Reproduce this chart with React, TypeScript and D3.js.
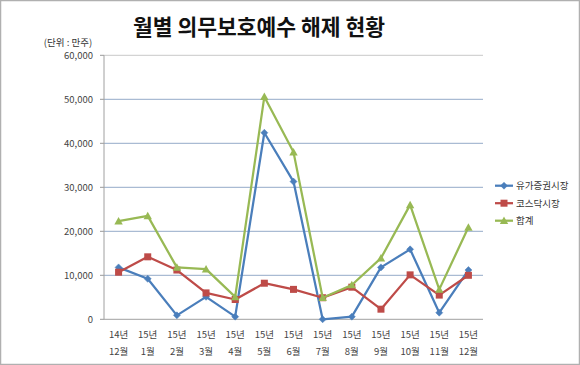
import React from "react";
import * as d3 from "d3";

const categoriesTop = ["14년", "15년", "15년", "15년", "15년", "15년", "15년", "15년", "15년", "15년", "15년", "15년", "15년"];
const categoriesBottom = ["12월", "1월", "2월", "3월", "4월", "5월", "6월", "7월", "8월", "9월", "10월", "11월", "12월"];
const categoryKeys = categoriesTop.map((t, i) => `${t} ${categoriesBottom[i]}`);

const kospi = [11800, 9200, 900, 5100, 600, 42400, 31300, 0, 600, 11800, 15900, 1500, 11200];
const kosdaq = [10700, 14200, 11200, 6000, 4500, 8200, 6800, 4900, 7300, 2300, 10100, 5500, 10000];
const total = [22300, 23500, 11800, 11400, 5100, 50600, 38000, 4900, 7800, 13900, 26000, 6800, 20900];

const yTicks = [0, 10000, 20000, 30000, 40000, 50000, 60000];
const seriesNames = ["유가증권시장", "코스닥시장", "합계"];
const seriesColors = ["#4A7EBB", "#BE4B48", "#98B954"];
const seriesData = [kospi, kosdaq, total];
const markerTypes = ["diamond", "square", "triangle"];

const W = 580;
const H = 365;
const plot = { left: 104, right: 483, top: 55.3, bottom: 319.3 };
const FONT = "'Noto Sans CJK KR', 'Noto Sans', sans-serif";

function Marker({ type, x, y, color }: { type: string; x: number; y: number; color: string }) {
  if (type === "diamond") {
    const s = 3.5;
    return <path d={`M${x},${y - s}L${x + s},${y}L${x},${y + s}L${x - s},${y}Z`} fill={color} stroke={color} strokeWidth={0.5} />;
  }
  if (type === "square") {
    const s = 3.5;
    return <rect x={x - s} y={y - s} width={2 * s} height={2 * s} fill={color} />;
  }
  const s = 4.2;
  return <path d={`M${x},${y - s}L${x + s},${y + s * 0.8}L${x - s},${y + s * 0.8}Z`} fill={color} />;
}

export default function App() {
  const x = d3.scaleBand<string>().domain(categoryKeys).range([plot.left, plot.right]);
  const y = d3.scaleLinear().domain([0, 60000]).range([plot.bottom, plot.top]);
  const fmt = d3.format(",");
  const line = d3
    .line<number>()
    .x((_, i) => (x(categoryKeys[i]) as number) + x.bandwidth() / 2)
    .y((d) => y(d));

  const legendX = 495;
  const legendY0 = 185.7;
  const legendStep = 17.5;

  return (
    <svg width={W} height={H} style={{ position: "absolute", left: 0, top: 0, background: "#fff" }} fontFamily={FONT}>
      <rect x={0.5} y={0.5} width={W - 1} height={H - 1} fill="#fff" stroke="#b0b0b0" strokeWidth={1.5} />
      <text x={259} y={35} textAnchor="middle" fontSize={21.5} fontWeight="bold" fill="#111">
        월별 의무보호예수 해제 현황
      </text>
      <text x={68} y={46} textAnchor="middle" fontSize={9.5} fill="#333">
        (단위 : 만주)
      </text>
      {yTicks.map((t) => (
        <g key={t}>
          {t > 0 && (
            <line
              x1={plot.left}
              x2={plot.right}
              y1={y(t)}
              y2={y(t)}
              stroke={t === 60000 ? "#c8c8c8" : "#94abc8"}
              strokeWidth={1}
            />
          )}
          <line x1={plot.left - 4} x2={plot.left} y1={y(t)} y2={y(t)} stroke="#999" />
          <text x={93} y={y(t) + 3.5} textAnchor="end" fontSize={9.5} fill="#444">
            {fmt(t)}
          </text>
        </g>
      ))}
      <line x1={plot.left} x2={plot.left} y1={plot.top} y2={plot.bottom} stroke="#a0a0a0" />
      <line x1={plot.left} x2={plot.right} y1={plot.bottom} y2={plot.bottom} stroke="#a0a0a0" />
      {categoryKeys.map((k, i) => {
        const cx = (x(k) as number) + x.bandwidth() / 2;
        return (
          <g key={k}>
            <text x={cx} y={338} textAnchor="middle" fontSize={9.5} fill="#444">
              {categoriesTop[i]}
            </text>
            <text x={cx} y={355} textAnchor="middle" fontSize={9.5} fill="#444">
              {categoriesBottom[i]}
            </text>
          </g>
        );
      })}
      {seriesData.map((data, si) => (
        <g key={si}>
          <path d={line(data) || ""} fill="none" stroke={seriesColors[si]} strokeWidth={2.25} strokeLinejoin="round" />
          {data.map((v, i) => (
            <Marker
              key={i}
              type={markerTypes[si]}
              x={(x(categoryKeys[i]) as number) + x.bandwidth() / 2}
              y={y(v)}
              color={seriesColors[si]}
            />
          ))}
        </g>
      ))}
      {seriesNames.map((n, i) => {
        const ly = legendY0 + i * legendStep;
        return (
          <g key={n}>
            <line x1={legendX} x2={legendX + 18} y1={ly} y2={ly} stroke={seriesColors[i]} strokeWidth={2.25} />
            <Marker type={markerTypes[i]} x={legendX + 9} y={ly} color={seriesColors[i]} />
            <text x={legendX + 21} y={ly + 3.5} fontSize={9.5} fill="#333">
              {n}
            </text>
          </g>
        );
      })}
    </svg>
  );
}
